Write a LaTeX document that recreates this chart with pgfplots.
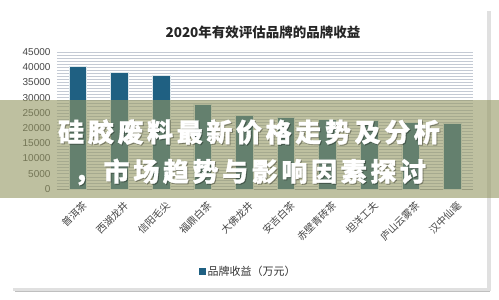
\documentclass[border=0pt]{standalone}
\usepackage{fontspec}
\usepackage{pgfplots}
\pgfplotsset{compat=1.18}
\setmainfont{Liberation Sans}
\newfontfamily\cjk{Noto Sans CJK SC}
\definecolor{barblue}{RGB}{31,96,130}
\definecolor{gridc}{RGB}{196,202,212}
\definecolor{bannerc}{RGB}{147,150,97}
\definecolor{ticktxt}{RGB}{70,70,70}
\begin{document}
\begin{tikzpicture}[x=1pt,y=1pt]
\path[use as bounding box, fill=white] (0,0) rectangle (499,300);
% frame with shadow
\fill[black!25] (15,8) rectangle (490,287);
\fill[black!12] (13,9) rectangle (491,289);
\fill[white] (12,12) rectangle (487,290);
\begin{axis}[
  at={(57pt,111pt)}, anchor=south west,
  scale only axis, width=416pt, height=137pt,
  xmin=-0.5, xmax=9.5, ymin=0, ymax=45000,
  ybar, bar width=17.5pt,
  ytick={0,5000,...,45000},
  minor y tick num=4,
  ymajorgrids, yminorgrids,
  major grid style={gridc, line width=0.6pt},
  minor grid style={gridc, line width=0.6pt},
  separate axis lines,
  y axis line style={draw=none},
  x axis line style={gridc!80!black, line width=0.6pt},
  axis x line*=bottom,
  axis y line*=left,
  y tick label style={font=\fontsize{10}{11}\selectfont, text=ticktxt},
  /pgf/number format/assume math mode=true,
  scaled y ticks=false,
  yticklabel style={/pgf/number format/set thousands separator={}},
  xtick=data,
  xticklabels={普洱茶,西湖龙井,信阳毛尖,福鼎白茶,大佛龙井,安吉白茶,赤壁青砖茶,坦洋工夫,庐山云雾茶,汉中仙毫},
  x tick label style={font=\cjk\fontsize{10}{11}\selectfont, text=ticktxt, rotate=45, anchor=east, inner sep=1pt, yshift=-15pt, xshift=-4pt},
  major tick length=0pt, minor tick length=0pt,
  every y tick label/.append style={xshift=-3pt},
  legend style={at={(0.46,-0.6)}, anchor=center, draw=none, fill=none, font=\cjk\fontsize{11}{12}\selectfont, text=black!80},
  legend image code/.code={\fill[barblue] (0pt,-3pt) rectangle (6pt,3pt);},
  clip=false,
]
\addplot[fill=barblue, draw=white!85!barblue, line width=0.5pt] coordinates {
(0,40300) (1,38300) (2,37200) (3,27900) (4,24300) (5,23500) (6,22900) (7,22500) (8,22000) (9,21500)
};
\addlegendentry{品牌收益（万元）}
\end{axis}
\node[font=\cjk\bfseries\fontsize{13.5}{15}\selectfont, text=black!85] at (263,268) {2020年有效评估品牌的品牌收益};
% banner
\fill[bannerc, opacity=0.6] (0,102) rectangle (499,200);
\newfontfamily\bannerfont{Noto Sans CJK SC}[LetterSpace=14,FakeBold=1.2]
\node[font=\bannerfont\bfseries\fontsize{26}{28}\selectfont, text=black, opacity=0.25] at (250,167) {硅胶废料最新价格走势及分析};
\node[font=\bannerfont\bfseries\fontsize{26}{28}\selectfont, text=white] at (249,168) {硅胶废料最新价格走势及分析};
\node[font=\bannerfont\bfseries\fontsize{26}{28}\selectfont, text=black, opacity=0.25] at (251,127) {，市场趋势与影响因素探讨};
\node[font=\bannerfont\bfseries\fontsize{26}{28}\selectfont, text=white] at (250,128) {，市场趋势与影响因素探讨};
\end{tikzpicture}
\end{document}
